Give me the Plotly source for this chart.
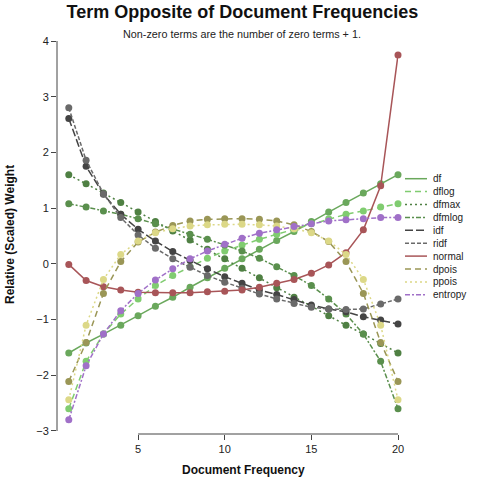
import plotly.graph_objects as go

# ---- data ----
doc_freq = list(range(1, 21))
df = [-1.60, -1.42, -1.26, -1.10, -0.93, -0.76, -0.60, -0.42, -0.25, -0.08,
      0.09, 0.26, 0.42, 0.58, 0.76, 0.93, 1.10, 1.27, 1.44, 1.60]
dflog = [-2.60, -1.75, -1.26, -0.90, -0.63, -0.39, -0.21, -0.05, 0.10, 0.23,
         0.34, 0.44, 0.53, 0.62, 0.72, 0.81, 0.89, 0.95, 1.02, 1.08]
dfmax = [1.60, 1.44, 1.27, 1.10, 0.93, 0.76, 0.59, 0.43, 0.26, 0.09,
         -0.08, -0.25, -0.43, -0.60, -0.76, -0.93, -1.10, -1.26, -1.43, -1.60]
dfmlog = [1.08, 1.02, 0.95, 0.89, 0.81, 0.72, 0.62, 0.53, 0.44, 0.34,
          0.23, 0.10, -0.05, -0.21, -0.39, -0.63, -0.90, -1.26, -1.75, -2.60]
idf = [2.61, 1.75, 1.25, 0.89, 0.62, 0.41, 0.22, 0.06, -0.09, -0.23,
       -0.35, -0.47, -0.55, -0.64, -0.74, -0.81, -0.86, -0.95, -1.01, -1.08]
ridf = [2.80, 1.86, 1.26, 0.83, 0.52, 0.28, 0.09, -0.06, -0.21, -0.33,
        -0.44, -0.54, -0.63, -0.71, -0.78, -0.81, -0.82, -0.81, -0.72, -0.63]
normal = [-0.01, -0.30, -0.41, -0.47, -0.51, -0.52, -0.52, -0.52, -0.50, -0.49,
          -0.47, -0.42, -0.35, -0.28, -0.17, -0.02, 0.20, 0.61, 1.40, 3.75]
dpois = [-2.11, -1.41, -0.53, 0.04, 0.39, 0.57, 0.69, 0.77, 0.80, 0.81,
         0.81, 0.80, 0.77, 0.70, 0.58, 0.40, 0.04, -0.53, -1.41, -2.11]
ppois = [-2.44, -1.10, -0.28, 0.17, 0.41, 0.56, 0.63, 0.68, 0.70, 0.71,
         0.71, 0.70, 0.68, 0.63, 0.56, 0.41, 0.17, -0.28, -1.10, -2.44]
entropy = [-2.80, -1.83, -1.26, -0.84, -0.53, -0.29, -0.09, 0.09, 0.23, 0.35,
           0.46, 0.55, 0.61, 0.67, 0.72, 0.77, 0.79, 0.81, 0.83, 0.83]

series_names = ["df", "dflog", "dfmax", "dfmlog", "idf", "ridf",
                "normal", "dpois", "ppois", "entropy"]
series_values = [df, dflog, dfmax, dfmlog, idf, ridf, normal, dpois, ppois, entropy]

x_ticks = [5, 10, 15, 20]
y_ticks = [-3, -2, -1, 0, 1, 2, 3, 4]

title_text = "Term Opposite of Document Frequencies"
subtitle_text = "Non-zero terms are the number of zero terms + 1."
x_title = "Document Frequency"
y_title = "Relative (Scaled) Weight"

# ---- styles ----
colors = ["#6aa85c", "#80cc70", "#4f8043", "#5a8f4d", "#444444", "#6a6a6a",
          "#a85558", "#9a9656", "#dcd887", "#a070c8"]
dashes = ["solid", "6px,4px", "2px,3px", "5px,2px,2px,2px", "8px,3px", "4px,2px",
          "solid", "6px,4px", "2px,3px", "5px,2px,2px,2px"]

W, H = 480, 480
L, R, T, B = 57, 82, 41, 46
plot_w = W - L - R
plot_h = H - T - B

fig = go.Figure()
for name, vals, c, d in zip(series_names, series_values, colors, dashes):
    fig.add_trace(go.Scatter(
        x=doc_freq, y=vals, name=name, mode="lines+markers",
        line=dict(color=c, width=1.5, dash=d),
        marker=dict(color=c, size=7),
        cliponaxis=False, showlegend=False,
    ))

def px_to_paper_x(px):
    return (px - L) / plot_w

def px_to_paper_y(py):
    return (H - B - py) / plot_h

shapes = [
    # axis lines
    dict(type="line", xref="x", yref="paper", x0=5, x1=20, y0=0, y1=0,
         line=dict(color="#444", width=1)),
    dict(type="line", xref="paper", yref="y", x0=0, x1=0, y0=-3, y1=4,
         line=dict(color="#444", width=1)),
]
annotations = []

# custom legend
leg_y0 = 178.7
leg_dy = 12.9
for i, (name, c, d) in enumerate(zip(series_names, colors, dashes)):
    py = leg_y0 + i * leg_dy
    yy = px_to_paper_y(py)
    shapes.append(dict(type="line", xref="paper", yref="paper",
                       x0=px_to_paper_x(405), x1=px_to_paper_x(427), y0=yy, y1=yy,
                       line=dict(color=c, width=1.5, dash=d)))
    annotations.append(dict(text=name, xref="paper", yref="paper",
                            x=px_to_paper_x(431), y=yy, xanchor="left", yanchor="middle",
                            showarrow=False, font=dict(size=10, color="#222")))

annotations.append(dict(text=subtitle_text, xref="paper", yref="paper",
                        x=px_to_paper_x(242), y=px_to_paper_y(34),
                        xanchor="center", yanchor="middle", showarrow=False,
                        font=dict(size=10.8, color="#222")))
annotations.append(dict(text="<b>" + x_title + "</b>", xref="paper", yref="paper",
                        x=px_to_paper_x(243), y=px_to_paper_y(470),
                        xanchor="center", yanchor="middle", showarrow=False,
                        font=dict(size=12, color="#111")))
annotations.append(dict(text="<b>" + y_title + "</b>", xref="paper", yref="paper",
                        x=px_to_paper_x(10), y=px_to_paper_y(235), textangle=-90,
                        xanchor="center", yanchor="middle", showarrow=False,
                        font=dict(size=12, color="#111")))

fig.update_layout(
    width=W, height=H,
    margin=dict(l=L, r=R, t=T, b=B, pad=0),
    paper_bgcolor="white", plot_bgcolor="white",
    font=dict(family="Liberation Sans, Arial, sans-serif", color="#222"),
    title=dict(text="<b>" + title_text + "</b>", x=0.505, xref="container",
               y=1 - 12 / H, yref="container", xanchor="center", yanchor="middle",
               font=dict(size=18, color="#111")),
    xaxis=dict(range=[0.32, 20], tickvals=x_ticks, ticks="outside", ticklen=5,
               tickcolor="#444", showgrid=False, zeroline=False, showline=False,
               tickfont=dict(size=11, color="#222")),
    yaxis=dict(range=[-3.054, 4], tickvals=y_ticks, ticks="outside", ticklen=5,
               tickcolor="#444", showgrid=False, zeroline=False, showline=False,
               tickfont=dict(size=11, color="#222")),
    shapes=shapes, annotations=annotations, showlegend=False,
)

fig.write_html("out.html")
